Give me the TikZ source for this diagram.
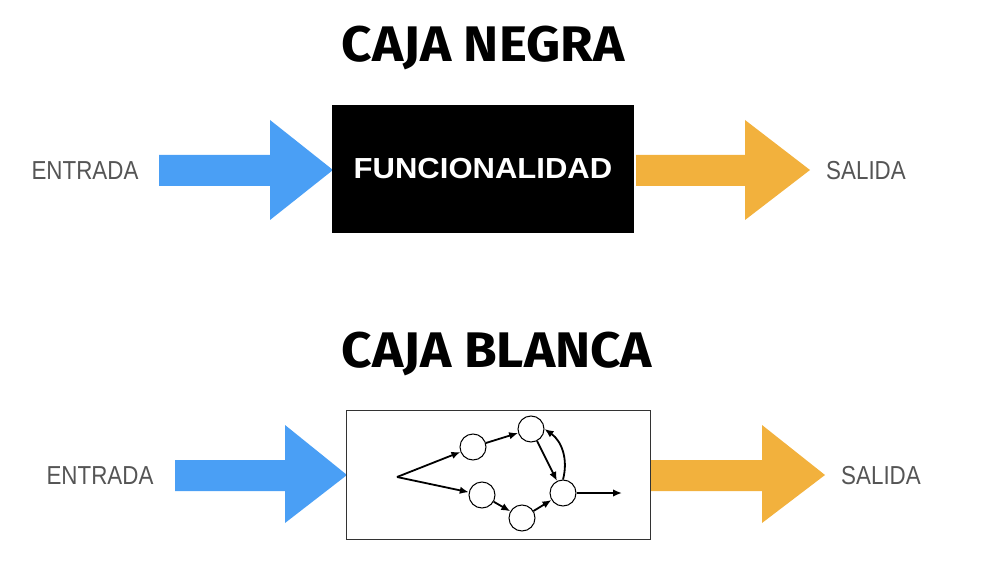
\documentclass[tikz,border=0pt]{standalone}
\usepackage{fontspec}
\setmainfont{Liberation Sans}
\newfontfamily\titlefont{Fira Sans}
\usetikzlibrary{arrows.meta}

\definecolor{inblue}{HTML}{4A9FF5}
\definecolor{outorange}{HTML}{F2B13D}
\definecolor{labelgray}{HTML}{555555}

\begin{document}
\begin{tikzpicture}[>={Latex[length=9pt,width=7.5pt]},x=1pt,y=-1pt,
  title/.style={font=\titlefont\bfseries\fontsize{50}{50}\selectfont,inner sep=0pt},
  iolabel/.style={text=labelgray,font=\fontsize{26}{26}\selectfont,inner sep=0pt},
  state/.style={circle,draw,line width=1pt,fill=white,minimum size=26pt,inner sep=0pt},
  edge/.style={->,line width=1.8pt}]
  \useasboundingbox (0,0) rectangle (982,585);
  % Black box: only inputs and outputs are visible
  \begin{scope}
    \node[title] (negra) at (483,48) {\scalebox{1.06}[1]{CAJA NEGRA}};
    \fill[inblue] (159,155) -- (270,155) -- (270,120) -- (333,170) -- (270,220) -- (270,186) -- (159,186) -- cycle;
    \fill[outorange] (636,155) -- (745,155) -- (745,120) -- (810,170) -- (745,220) -- (745,186) -- (636,186) -- cycle;
    \node[fill=black,minimum width=302pt,minimum height=128pt,inner sep=0pt] (black) at (483,169) {};
    \node[text=white,font=\bfseries\fontsize{29}{29}\selectfont,inner sep=0pt] (func) at (black.center) {\scalebox{1.07}[1]{FUNCIONALIDAD}};
    \node[iolabel] (in1) at (85,171) {\scalebox{0.86}[1]{ENTRADA}};
    \node[iolabel] (out1) at (866,171) {\scalebox{0.86}[1]{SALIDA}};
  \end{scope}
  % White box: the inner workings are shown as a graph
  \begin{scope}
    \node[title] (blanca) at (497,354) {\scalebox{1.06}[1]{CAJA BLANCA}};
    \fill[inblue] (175,460) -- (285,460) -- (285,425) -- (347,475) -- (285,523) -- (285,491) -- (175,491) -- cycle;
    \fill[outorange] (651,460) -- (762,460) -- (762,425) -- (825,475) -- (762,523) -- (762,491) -- (651,491) -- cycle;
    \node[draw=black!80,minimum width=304pt,minimum height=129pt,inner sep=0pt] (white) at (498,474.5) {};
    \node[iolabel] (in2) at (100,476) {\scalebox{0.86}[1]{ENTRADA}};
    \node[iolabel] (out2) at (881,476) {\scalebox{0.86}[1]{SALIDA}};
    \coordinate (s) at (397,477);
    \coordinate (t) at (622,493);
    \node[state] (a) at (473,447) {};
    \node[state] (b) at (531,429) {};
    \node[state] (c) at (482,495) {};
    \node[state] (d) at (522,518) {};
    \node[state] (e) at (563,493) {};
    \draw[edge] (s) -- (a);
    \draw[edge] (s) -- (c);
    \draw[edge] (a) -- (b);
    \draw[edge] (b) -- (e);
    \draw[edge] (e.north) to[bend right=35] (b.east);
    \draw[edge] (c) -- (d);
    \draw[edge] (d) -- (e);
    \draw[edge] (e) -- (t);
  \end{scope}
\end{tikzpicture}
\end{document}
